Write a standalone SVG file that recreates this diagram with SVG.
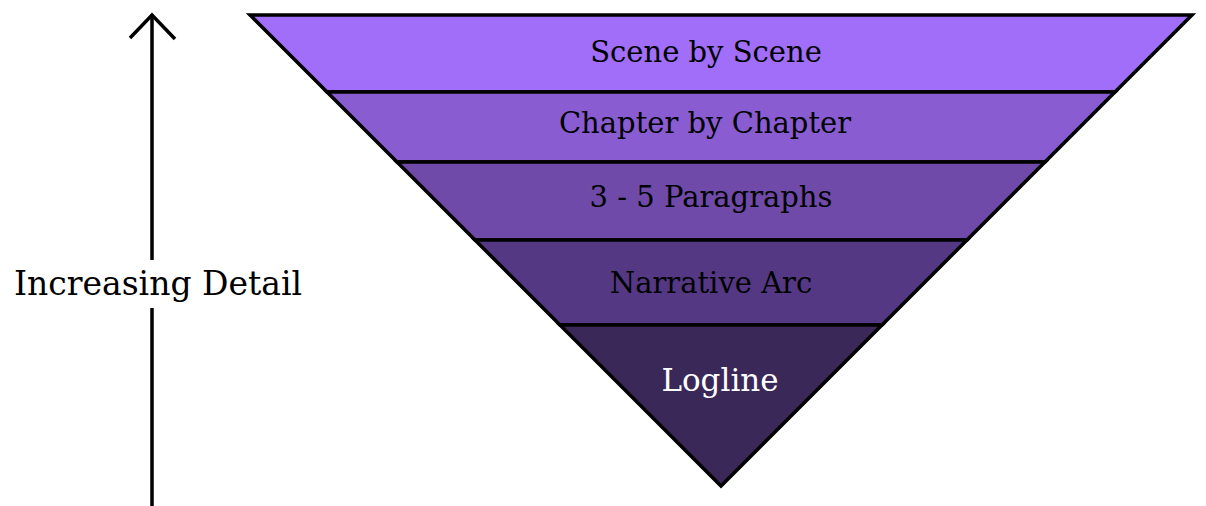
<svg xmlns="http://www.w3.org/2000/svg" width="1206" height="506" viewBox="0 0 1206 506">
<style>
.band{stroke:#000;stroke-width:3.5;stroke-linejoin:miter}
.lbl{font-family:"DejaVu Serif","Liberation Serif",serif;font-size:29px;text-anchor:middle;fill:#000}
.conn{stroke:#000;stroke-width:3.5;fill:none}
</style>
<rect width="1206" height="506" fill="#fff"/>
<g id="scene">
<polygon class="band" fill="#A06EF8" points="250,15 1192,15 1115,92 327,92"/>
<text class="lbl" x="706" y="62">Scene by Scene</text>
</g>
<g id="chapter">
<polygon class="band" fill="#8A5CD2" points="327,92 1115,92 1045,162 397,162"/>
<text class="lbl" x="705" y="133">Chapter by Chapter</text>
</g>
<g id="paragraphs">
<polygon class="band" fill="#6F4AA8" points="397,162 1045,162 967,240 475,240"/>
<text class="lbl" x="711" y="207">3 - 5 Paragraphs</text>
</g>
<g id="arc">
<polygon class="band" fill="#553883" points="475,240 967,240 882,325 560,325"/>
<text class="lbl" x="711" y="293">Narrative Arc</text>
</g>
<g id="logline">
<polygon class="band" fill="#3A2859" points="560,325 882,325 721,486"/>
<text class="lbl" x="720" y="391" style="fill:#fff;font-size:31px">Logline</text>
</g>
<g id="connectors">
<line class="conn" x1="152" y1="15" x2="152" y2="260"/>
<line class="conn" x1="152" y1="308" x2="152" y2="506"/>
<polyline class="conn" points="130,38 152,15 175,39"/>
</g>
<g id="axis-label">
<text x="158" y="295" style="font-family:'DejaVu Serif','Liberation Serif',serif;font-size:33px;text-anchor:middle;fill:#000">Increasing Detail</text>
</g>
</svg>
